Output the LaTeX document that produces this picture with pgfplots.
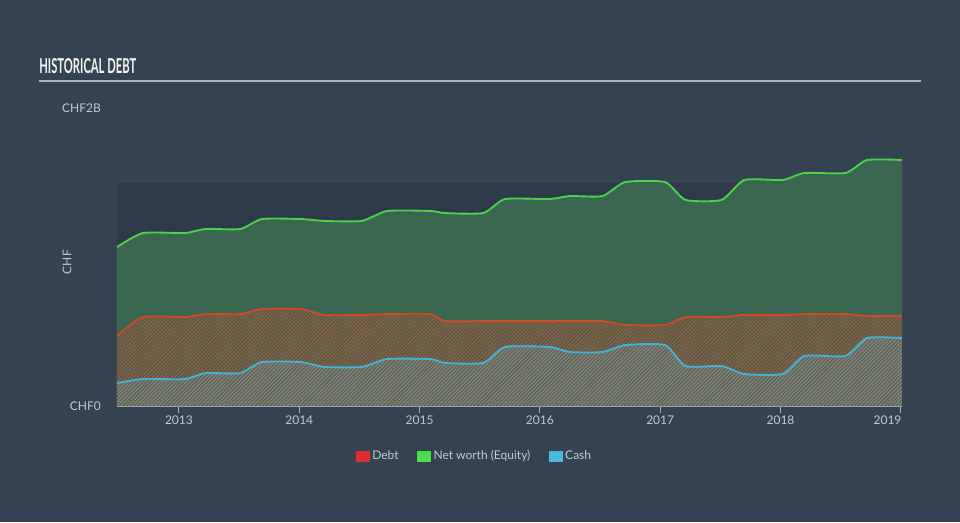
\documentclass[border=0pt]{standalone}
\usepackage{pgfplots}
\pgfplotsset{compat=1.18}
\usepackage{pgfplotstable}
\usepackage{fontspec}
\setmainfont{Lato}
\usetikzlibrary{patterns.meta}
\definecolor{bg}{HTML}{344252}
\definecolor{band}{HTML}{2E3A4A}
\definecolor{eqfill}{HTML}{3B6650}
\definecolor{eqline}{HTML}{4CD24A}
\definecolor{debtline}{HTML}{D04A2A}
\definecolor{debthatch}{HTML}{B0553A}
\definecolor{cashline}{HTML}{45B2DA}
\definecolor{cashhatch}{HTML}{5A9CA8}
\definecolor{txtgrey}{HTML}{C3C9D0}
\definecolor{axgrey}{HTML}{A9B4C0}
\definecolor{legred}{HTML}{E22D2D}
\definecolor{leggreen}{HTML}{4DDC4A}
\definecolor{legblue}{HTML}{46B9DE}

\pgfplotstableread{
x        eq     debt   cash
2012.485 1.067  0.470  0.154
2012.70  1.161  0.597  0.181
2013.05  1.161  0.597  0.181
2013.22  1.188  0.617  0.221
2013.51  1.188  0.617  0.221
2013.69  1.255  0.651  0.295
2014.01  1.255  0.651  0.295
2014.21  1.242  0.611  0.262
2014.52  1.242  0.611  0.262
2014.73  1.309  0.617  0.315
2015.09  1.309  0.617  0.315
2015.21  1.295  0.570  0.289
2015.53  1.295  0.570  0.289
2015.71  1.389  0.570  0.396
2016.08  1.389  0.570  0.396
2016.25  1.409  0.570  0.362
2016.52  1.409  0.570  0.362
2016.71  1.503  0.544  0.409
2017.04  1.503  0.544  0.409
2017.21  1.383  0.597  0.268
2017.51  1.383  0.597  0.268
2017.70  1.517  0.611  0.215
2018.02  1.517  0.611  0.215
2018.20  1.564  0.617  0.336
2018.54  1.564  0.617  0.336
2018.72  1.651  0.604  0.456
2019.01  1.651  0.604  0.456
}\datatable

\pgfplotstableread{
x        y
2012.485 1.497
2019.01  1.497
}\bandtable

\begin{document}
\begin{tikzpicture}
\useasboundingbox (0,0) rectangle (720pt,391.5pt);
\fill[bg] (0,0) rectangle (720pt,391.5pt);
\node[anchor=west, inner sep=0pt, text=white!95!bg] at (29.25pt,341.6pt)
  {\resizebox{72.75pt}{11.25pt}{\bfseries HISTORICAL DEBT}};
\draw[axgrey, line width=1.3pt] (29.25pt,330.75pt) -- (690.75pt,330.75pt);
\begin{axis}[
  at={(87.75pt,87pt)}, anchor=south west,
  scale only axis, width=588.75pt, height=223.5pt,
  xmin=2012.485, xmax=2019.01, ymin=0, ymax=2,
  axis x line*=bottom, axis y line*=left,
  x axis line style={draw=axgrey, line width=1pt, -},
  y axis line style={draw=none},
  xtick={2013,2014,2015,2016,2017,2018},
  xticklabels={2013,2014,2015,2016,2017,2018},
  extra x ticks={2019}, extra x tick labels={2019},
  extra x tick style={xticklabel style={anchor=north east, xshift=4pt}},
  x tick style={draw=axgrey, line width=0.8pt},
  tick align=outside, major tick length=5pt,
  xticklabel style={text=txtgrey, font=\fontsize{9}{10}\selectfont, yshift=1pt},
  ytick={0,2}, yticklabels={CHF0,CHF2B},
  y tick style={draw=none},
  yticklabel style={text=txtgrey, font=\fontsize{9}{10}\selectfont, anchor=east, inner sep=0pt, xshift=-7pt},
  ylabel={CHF},
  ylabel style={text=txtgrey, font=\fontsize{9}{10}\selectfont, at={(axis description cs:0,0.483)}, anchor=center, yshift=37.5pt},
  /pgf/number format/assume math mode=true,
  legend style={at={(axis description cs:0.456,0)}, anchor=center, yshift=-37.5pt,
    draw=none, fill=none, text=txtgrey, font=\fontsize{9}{10}\selectfont,
    legend columns=3, /tikz/every even column/.append style={column sep=12pt},
    legend cell align=left, inner sep=0pt},
]
\addplot[draw=none, fill=band, forget plot] table[x=x,y=y] {\bandtable} \closedcycle;
\addplot[draw=none, fill=eqfill, smooth, tension=0.35, forget plot] table[x=x,y=eq] {\datatable} \closedcycle;
\addplot[draw=none, pattern={Lines[angle=45,distance=2pt,line width=0.8pt]}, pattern color=debthatch, smooth, tension=0.35, forget plot] table[x=x,y=debt] {\datatable} \closedcycle;
\addplot[draw=none, pattern={Lines[angle=45,distance=2pt,line width=0.65pt,xshift=1pt]}, pattern color=cashhatch, smooth, tension=0.35, forget plot] table[x=x,y=cash] {\datatable} \closedcycle;
\addplot[eqline, line width=1.4pt, smooth, tension=0.35, forget plot] table[x=x,y=eq] {\datatable};
\addplot[debtline, line width=1.4pt, smooth, tension=0.35, forget plot] table[x=x,y=debt] {\datatable};
\addplot[cashline, line width=1.4pt, smooth, tension=0.35, forget plot] table[x=x,y=cash] {\datatable};
\addlegendimage{legend image code/.code={\fill[legred] (0pt,-3.75pt) rectangle (9.75pt,3.75pt);}}
\addlegendimage{legend image code/.code={\fill[leggreen] (0pt,-3.75pt) rectangle (9.75pt,3.75pt);}}
\addlegendimage{legend image code/.code={\fill[legblue] (0pt,-3.75pt) rectangle (9.75pt,3.75pt);}}
\legend{Debt, Net worth (Equity), Cash}
\end{axis}
\end{tikzpicture}
\end{document}
